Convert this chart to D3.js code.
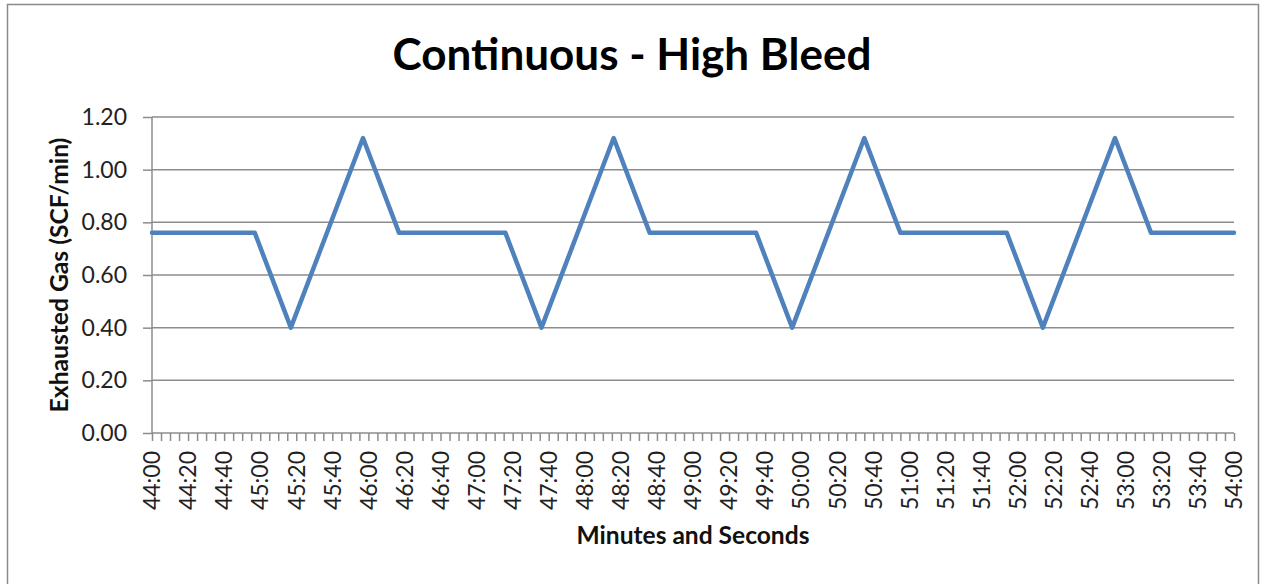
<!DOCTYPE html>
<html>
<head>
<meta charset="utf-8">
<script src="https://cdn.jsdelivr.net/npm/d3@7"></script>
<style>
  html, body { margin: 0; padding: 0; background: #fff; }
  svg { display: block; }
  text { font-family: Lato, "Open Sans", sans-serif; }
</style>
</head>
<body>
<svg id="chart" width="1264" height="584"></svg>
<script>
// ---- data ----
const chartTitle = "Continuous - High Bleed";
const yAxisTitle = "Exhausted Gas (SCF/min)";
const xAxisTitle = "Minutes and Seconds";
const times = ["44:00","44:57","45:17","45:57","46:17","47:16","47:36","48:16","48:36",
               "49:35","49:55","50:35","50:55","51:54","52:14","52:54","53:14","54:00"];
const values = [0.76,0.76,0.40,1.12,0.76,0.76,0.40,1.12,0.76,
                0.76,0.40,1.12,0.76,0.76,0.40,1.12,0.76,0.76];
const xTickLabels = ["44:00","44:20","44:40","45:00","45:20","45:40","46:00","46:20","46:40",
                     "47:00","47:20","47:40","48:00","48:20","48:40","49:00","49:20","49:40",
                     "50:00","50:20","50:40","51:00","51:20","51:40","52:00","52:20","52:40",
                     "53:00","53:20","53:40","54:00"];
const yTickValues = [0, 0.2, 0.4, 0.6, 0.8, 1.0, 1.2];

// ---- helpers ----
const toSec = s => { const [m, ss] = s.split(":").map(Number); return m * 60 + ss; };

const svg = d3.select("#chart");
const plot = { left: 152, right: 1234, top: 117, bottom: 433 };

const x = d3.scaleLinear()
  .domain([toSec(xTickLabels[0]), toSec(xTickLabels[xTickLabels.length - 1])])
  .range([plot.left, plot.right]);
const y = d3.scaleLinear().domain([0, 1.2]).range([plot.bottom, plot.top]);

// outer border
svg.append("rect")
  .attr("x", 7.5).attr("y", 4.5).attr("width", 1251).attr("height", 620)
  .attr("fill", "#fff").attr("stroke", "#8a8a8a").attr("stroke-width", 1.5);

// gridlines
svg.append("g").selectAll("line").data(yTickValues.slice(1)).join("line")
  .attr("x1", plot.left).attr("x2", plot.right)
  .attr("y1", d => y(d)).attr("y2", d => y(d))
  .attr("stroke", "#8c8c8c").attr("stroke-width", 1.5);

// y axis
const yAxis = d3.axisLeft(y).tickValues(yTickValues).tickFormat(d3.format(".2f"))
  .tickSize(9).tickPadding(16);
const gy = svg.append("g").attr("transform", `translate(${plot.left},0)`).call(yAxis);
gy.select(".domain").attr("stroke", "#8c8c8c").attr("stroke-width", 1.5).attr("d", `M0,${plot.top}V${plot.bottom}`);
gy.selectAll(".tick line").attr("stroke", "#8c8c8c").attr("stroke-width", 1.5);
gy.selectAll(".tick text").attr("font-size", 23).attr("fill", "#222")
  .style("font-family", "Lato, 'Open Sans', sans-serif");

// x axis minor ticks every 5 s
const minorTicks = d3.range(x.domain()[0], x.domain()[1] + 1, 5);
const xAxisMinor = d3.axisBottom(x).tickValues(minorTicks).tickFormat("").tickSize(8);
const gxm = svg.append("g").attr("transform", `translate(0,${plot.bottom})`).call(xAxisMinor);
gxm.select(".domain").attr("stroke", "#8c8c8c").attr("stroke-width", 1.5).attr("d", `M${plot.left},0H${plot.right}`);
gxm.selectAll(".tick line").attr("stroke", "#8c8c8c").attr("stroke-width", 1.5);

// x axis labels
const gx = svg.append("g");
gx.selectAll("text").data(xTickLabels).join("text")
  .attr("transform", d => `translate(${x(toSec(d))},${plot.bottom + 18}) rotate(-90)`)
  .attr("text-anchor", "end").attr("dy", "0.36em")
  .attr("font-size", 23).attr("fill", "#222")
  .text(d => d);

// line
const line = d3.line().x((d, i) => x(toSec(times[i]))).y(d => y(d));
svg.append("path").datum(values)
  .attr("d", line)
  .attr("fill", "none").attr("stroke", "#4f81bd").attr("stroke-width", 4.5)
  .attr("stroke-linejoin", "round").attr("stroke-linecap", "round");

// titles
function fit(sel, target) {
  const w = sel.node().getComputedTextLength();
  const fs = parseFloat(sel.attr("font-size"));
  sel.attr("font-size", fs * target / w);
}
const t = svg.append("text").attr("x", 632).attr("y", 70).attr("text-anchor", "middle")
  .attr("font-size", 36).attr("font-weight", "bold").attr("fill", "#000").text(chartTitle);
fit(t, 479);

const yt = svg.append("text").attr("transform", `translate(68,${(plot.top + plot.bottom) / 2}) rotate(-90)`)
  .attr("text-anchor", "middle").attr("font-size", 18).attr("font-weight", "bold").attr("fill", "#111")
  .text(yAxisTitle);
fit(yt, 275);

const xt = svg.append("text").attr("x", 693).attr("y", 544).attr("text-anchor", "middle")
  .attr("font-size", 18).attr("font-weight", "bold").attr("fill", "#111")
  .text(xAxisTitle);
fit(xt, 233);
</script>
</body>
</html>
